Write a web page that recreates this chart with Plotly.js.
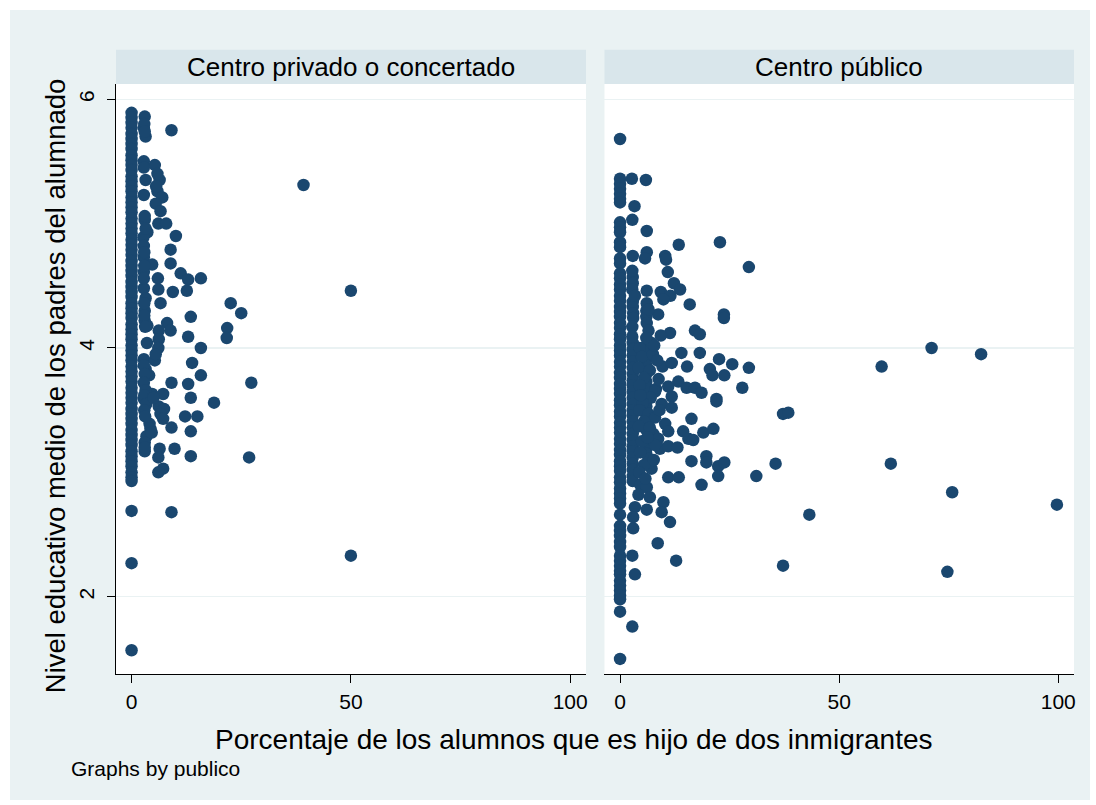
<!DOCTYPE html>
<html>
<head>
<meta charset="utf-8">
<script src="https://cdn.plot.ly/plotly-3.0.1.min.js"></script>
<style>
html,body{margin:0;padding:0;background:#ffffff;}
#chart{position:absolute;left:10px;top:10px;width:1080px;height:790px;}
</style>
</head>
<body>
<div id="chart"></div>
<script>
// ---- Data: Centro privado o concertado ----
// schools with 0% (column at x = 0)
var privZeroY = [5.89,5.85,5.81,5.77,5.72,5.68,5.64,5.60,5.55,5.51,5.47,5.43,5.38,5.34,5.30,5.26,5.21,5.17,5.13,5.09,5.04,5.00,4.96,4.92,4.87,4.83,4.79,4.75,4.70,4.66,4.62,4.58,4.53,4.49,4.45,4.41,4.36,4.32,4.28,4.24,4.19,4.15,4.11,4.07,4.02,3.98,3.94,3.90,3.85,3.81,3.77,3.73,3.68,3.64,3.60,3.56,3.51,3.47,3.43,3.39,3.34,3.30,3.26,3.22,3.17,3.13,3.09,3.05,3.00,2.96,2.93,2.69,2.27,1.57];
var privX = [3.0,2.8,3.2,9.1,2.8,5.3,3.2,6.4,5.9,2.8,5.9,7.0,5.5,6.6,39.2,3.0,6.1,7.9,3.6,2.7,10.1,2.8,8.9,2.8,4.7,8.9,2.8,11.2,6.0,12.9,15.8,2.8,6.1,9.4,12.6,3.2,6.6,50,22.6,25.0,3.0,13.5,3.0,3.6,8.1,8.9,6.2,6.2,12.9,21.8,21.7,6.1,15.8,2.8,5.3,13.8,3.2,15.8,4.0,9.1,12.9,27.3,2.8,4.7,7.2,13.5,18.8,6.2,7.4,6.6,7.2,12.2,15.0,4.1,9.1,13.5,4.3,3.4,3.0,3.0,6.4,9.8,6.1,13.5,26.8,7.2,6.1,9.1,50,
  2.9,2.9,3.1,2.8,3.0,2.8,3.2,2.9,3.4,2.9,3.1,2.9,3.0,2.8,5.6,3.0,3.2,2.9,2.9,2.8,5.0,4.6,3.0,5.5,3.5];
var privY = [5.86,5.77,5.70,5.75,5.50,5.47,5.35,5.35,5.40,5.23,5.26,5.21,5.16,5.10,5.31,5.03,5.00,5.00,4.93,4.89,4.90,4.82,4.79,4.73,4.67,4.68,4.61,4.60,4.56,4.55,4.56,4.48,4.47,4.45,4.46,4.40,4.36,4.46,4.36,4.28,4.30,4.25,4.22,4.18,4.20,4.14,4.14,4.07,4.09,4.16,4.08,4.00,4.00,3.91,3.90,3.88,3.83,3.78,3.78,3.72,3.71,3.72,3.59,3.63,3.63,3.60,3.56,3.53,3.51,3.47,3.43,3.45,3.45,3.39,3.36,3.33,3.35,3.29,3.24,3.17,3.19,3.19,3.12,3.13,3.12,3.03,3.00,2.68,2.33,
  4.36,4.26,4.17,3.86,3.79,3.72,3.66,3.62,3.55,3.50,3.45,5.80,5.74,5.45,5.30,5.06,4.96,4.77,4.66,4.56,3.60,3.32,3.20,3.95,4.04];

// ---- Data: Centro público ----
var pubZeroY = [5.68,5.36,5.32,5.28,5.24,5.20,5.17,5.01,4.97,4.93,4.85,4.81,4.72,4.68,4.60,4.56,4.51,4.47,4.42,4.38,4.33,4.29,4.25,4.20,4.16,4.11,4.07,4.02,3.98,3.94,3.89,3.85,3.80,3.76,3.71,3.67,3.63,3.58,3.54,3.49,3.45,3.40,3.36,3.32,3.27,3.23,3.18,3.14,3.09,3.05,3.01,2.96,2.92,2.87,2.83,2.79,2.75,2.66,2.57,2.53,2.49,2.44,2.40,2.33,2.29,2.25,2.21,2.18,2.13,2.09,2.05,2.01,1.98,1.88,1.50];
var pubThreeY = [4.57,4.52,4.37,4.33,4.04,3.99,3.94,3.89,3.84,3.79,3.74,3.70,3.65,3.60,3.55,3.50,3.46,3.41,3.36,3.31,3.26,3.21,3.17,3.12,3.07,3.02,2.97,2.93];
var pubSixY = [4.30,4.25,4.02,3.97,3.91,3.86,3.79,3.73,3.63,3.58,3.53,3.44,3.39,3.34,3.24,3.19,3.15];
var pubX = [2.7,5.9,3.3,2.8,6.1,13.4,22.8,2.9,6.1,5.7,10.3,10.5,29.4,2.8,10.9,12.3,13.7,2.8,6.1,9.3,11.5,9.9,3.4,6.1,15.9,3.0,8.7,6.5,23.7,23.7,3.0,6.1,6.5,17.1,18.2,11.4,9.3,2.8,2.8,7.2,14.0,18.2,22.6,25.6,29.4,9.7,11.8,15.3,20.5,21.1,23.8,27.9,13.3,11.0,15.2,17.1,18.6,22.0,6.1,8.2,8.0,11.8,9.5,11.8,22.0,16.3,37.2,38.4,10.3,14.4,19.0,21.3,11.0,7.6,15.6,16.7,8.7,9.1,11.0,13.1,16.3,19.7,19.7,22.4,23.8,22.4,31.1,35.5,18.6,11.0,13.4,6.5,7.2,4.6,6.1,6.8,3.4,6.1,9.9,9.5,11.4,3.0,3.0,8.6,2.8,12.8,3.4,2.8,37.2,71.1,82.4,59.7,61.8,75.8,99.7,43.2,74.7,
  4.5,5.0,7.5,8.5,4.2,6.8,5.5,8.8,4.5,7.0,5.2,4.4,6.5,8.0,5.5,4.3,6.8,5.0,8.0,4.6,5.5,4.4,5.8,4.2,6.0,7.8,4.7,9.0,6.3,7.7];
var pubY = [5.36,5.35,5.14,5.03,4.94,4.83,4.85,4.74,4.77,4.72,4.74,4.71,4.65,4.62,4.61,4.52,4.47,4.47,4.46,4.45,4.42,4.39,4.42,4.36,4.35,4.28,4.27,4.31,4.27,4.24,4.24,4.20,4.14,4.14,4.11,4.12,4.10,4.17,4.09,4.04,3.96,3.96,3.91,3.87,3.84,3.85,3.88,3.85,3.83,3.78,3.78,3.68,3.73,3.69,3.68,3.68,3.64,3.59,3.68,3.67,3.65,3.61,3.55,3.52,3.57,3.43,3.47,3.48,3.39,3.33,3.32,3.35,3.33,3.31,3.27,3.26,3.27,3.19,3.21,3.20,3.09,3.13,3.08,3.05,3.08,2.97,2.97,3.07,2.90,2.96,2.96,3.11,3.03,2.90,2.88,2.80,2.72,2.70,2.76,2.68,2.60,2.64,2.55,2.43,2.33,2.29,2.18,1.76,2.25,4.00,3.95,3.85,3.07,2.84,2.74,2.66,2.20,
  4.00,3.93,3.95,3.90,3.84,3.82,3.76,3.75,3.70,3.60,3.56,3.50,3.47,3.44,3.41,3.37,3.36,3.25,3.22,3.16,3.06,3.00,2.95,2.82,4.08,4.02,3.62,3.50,3.28,3.10];

var panelTitles = ["Centro privado o concertado", "Centro público"];
var xTicks = [0, 50, 100];
var yTicks = [2, 4, 6];

// ---- Build traces ----
function col(n, v){ var a=[]; for(var i=0;i<n;i++) a.push(v); return a; }
var navy = '#1a476f';
var mk = {color: navy, size: 12.5, line: {width: 0}};

var traces = [
  {x: col(privZeroY.length, 0), y: privZeroY, xaxis:'x', yaxis:'y'},
  {x: privX, y: privY, xaxis:'x', yaxis:'y'},
  {x: col(pubZeroY.length, 0), y: pubZeroY, xaxis:'x2', yaxis:'y2'},
  {x: col(pubThreeY.length, 2.9), y: pubThreeY, xaxis:'x2', yaxis:'y2'},
  {x: col(pubSixY.length, 6.0), y: pubSixY, xaxis:'x2', yaxis:'y2'},
  {x: pubX, y: pubY, xaxis:'x2', yaxis:'y2'}
].map(function(t){ t.type='scatter'; t.mode='markers'; t.marker=mk; t.hoverinfo='skip'; t.showlegend=false; return t; });

var font = 'Liberation Sans, Arial, sans-serif';
var xr = [-3.55, 103.6];
var yr = [1.379, 6.122];
var d1 = [0, 0.4906], d2 = [0.5099, 1];

function xax(dom, anchor){
  return {domain: dom, range: xr, tickvals: xTicks, ticktext: xTicks.map(String),
    showgrid:false, zeroline:false, showline:true, linecolor:'#000', linewidth:1.3,
    ticks:'outside', ticklen:8, tickwidth:1, tickcolor:'#000',
    tickfont:{family:font, size:21, color:'#000'}, anchor: anchor, fixedrange:true};
}
var layout = {
  width:1080, height:790,
  margin:{l:106, r:16, t:74, b:126},
  paper_bgcolor:'#EAF2F3', plot_bgcolor:'#ffffff',
  showlegend:false,
  xaxis: xax(d1, 'y'),
  xaxis2: xax(d2, 'y2'),
  yaxis: {domain:[0,1], range: yr, tickvals:yTicks, ticktext:yTicks.map(String), tickangle:-90,
    showgrid:true, gridcolor:'#EAF2F3', gridwidth:1.3, zeroline:false,
    showline:true, linecolor:'#000', linewidth:1.3, ticks:'outside', ticklen:8, tickcolor:'#000',
    ticklabelstandoff:4,
    tickfont:{family:font, size:21, color:'#000'}, anchor:'x', fixedrange:true},
  yaxis2: {domain:[0,1], range: yr, tickvals:yTicks, showticklabels:false,
    showgrid:true, gridcolor:'#EAF2F3', gridwidth:1.3, zeroline:false, showline:false, ticks:'',
    anchor:'x2', fixedrange:true},
  shapes: [
    {type:'rect', xref:'paper', yref:'paper', x0:d1[0], x1:d1[1], y0:1, y1:1.0579, fillcolor:'#D9E6EB', line:{width:0}, layer:'below'},
    {type:'rect', xref:'paper', yref:'paper', x0:d2[0], x1:d2[1], y0:1, y1:1.0579, fillcolor:'#D9E6EB', line:{width:0}, layer:'below'}
  ],
  annotations: [
    {text: panelTitles[0], xref:'paper', yref:'paper', x:(d1[0]+d1[1])/2, y:1.0288, xanchor:'center', yanchor:'middle', showarrow:false, font:{family:font, size:26, color:'#000'}},
    {text: panelTitles[1], xref:'paper', yref:'paper', x:(d2[0]+d2[1])/2, y:1.0288, xanchor:'center', yanchor:'middle', showarrow:false, font:{family:font, size:26, color:'#000'}},
    {text: 'Porcentaje de los alumnos que es hijo de dos inmigrantes', xref:'paper', yref:'paper', x:0.478, y:-0.1118, xanchor:'center', yanchor:'middle', showarrow:false, font:{family:font, size:28, color:'#000'}},
    {text: 'Nivel educativo medio de los padres del alumnado', xref:'paper', yref:'paper', x:-0.0637, y:0.4894, xanchor:'center', yanchor:'middle', textangle:-90, showarrow:false, font:{family:font, size:27.5, color:'#000'}},
    {text: 'Graphs by publico', xref:'paper', yref:'paper', x:-0.0486, y:-0.1609, xanchor:'left', yanchor:'middle', showarrow:false, font:{family:font, size:21, color:'#000'}}
  ]
};
Plotly.newPlot('chart', traces, layout, {displayModeBar:false, staticPlot:true});
</script>
</body>
</html>
